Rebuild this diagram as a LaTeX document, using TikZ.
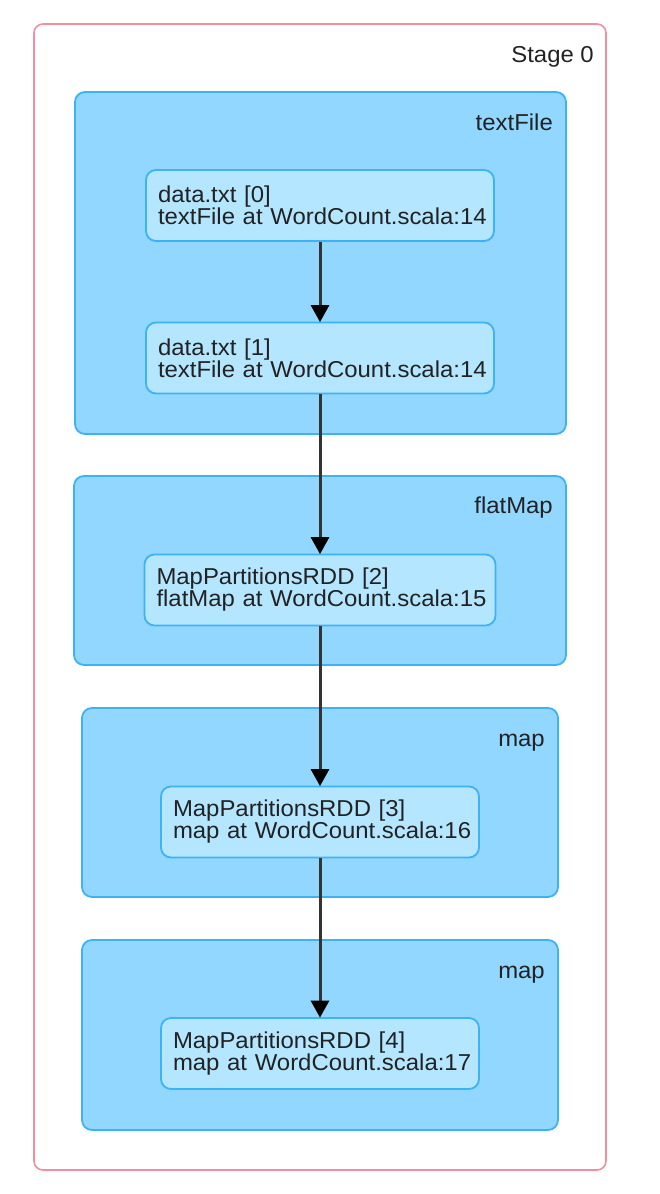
\documentclass[tikz,border=0pt]{standalone}
\usepackage{fontspec}
\setmainfont{Liberation Sans}[FakeStretch=1.04]
\usetikzlibrary{arrows.meta}
\definecolor{stageborder}{HTML}{F38DA2}
\definecolor{clusterfill}{HTML}{91D7FF}
\definecolor{clusterborder}{HTML}{3DB2F5}
\definecolor{nodefill}{HTML}{B4E6FF}
\definecolor{txt}{HTML}{222222}
\definecolor{edge}{HTML}{333333}
\hbadness=10000 \hfuzz=100pt
\tikzset{
  stagebox/.style={draw=stageborder, line width=1.6pt, fill=white, rounded corners=9pt, minimum width=572pt, minimum height=1146pt, inner sep=0pt},
  clusterbox/.style={draw=clusterborder, line width=1.8pt, fill=clusterfill, rounded corners=10pt, inner sep=0pt},
  rddbox/.style={draw=clusterborder, line width=1.8pt, fill=nodefill, rounded corners=10pt, inner xsep=12pt, inner ysep=0pt, align=left, text=txt, font=\fontsize{23}{22}\selectfont, minimum height=71pt},
  lbl/.style={anchor=base east, text=txt, inner sep=0pt, font=\fontsize{23}{24}\selectfont},
  arr/.style={draw=edge, line width=3pt, -{Triangle[length=17pt,width=18pt,fill=black,color=black]}, shorten >=-0.5pt}
}
\begin{document}
\begin{tikzpicture}[x=1pt,y=-1pt]
\path[use as bounding box] (0,0) rectangle (660,1194);
\node[stagebox] (stage) at (320,597) {};
\node[lbl] (stagelbl) at (594,62) {Stage 0};
% clusters
\node[clusterbox, minimum width=491pt, minimum height=342pt] (c0) at (320.5,263) {};
\node[lbl] (c0lbl) at (553,130) {textFile};
\node[clusterbox, minimum width=492pt, minimum height=189pt] (c1) at (320,570.5) {};
\node[lbl] (c1lbl) at (553,513) {flatMap};
\node[clusterbox, minimum width=476pt, minimum height=189pt] (c2) at (320,802.5) {};
\node[lbl] (c2lbl) at (545,746) {map};
\node[clusterbox, minimum width=476pt, minimum height=190pt] (c3) at (320,1035) {};
\node[lbl] (c3lbl) at (545,978) {map};
% rdd nodes
\node[rddbox, text width=324pt] (n0) at (320,205.5) {\mbox{data.txt [0]}\\\mbox{textFile at WordCount.scala:14}};
\node[rddbox, text width=324pt] (n1) at (320,358) {\mbox{data.txt [1]}\\\mbox{textFile at WordCount.scala:14}};
\node[rddbox, text width=327pt] (n2) at (320,590) {\mbox{MapPartitionsRDD [2]}\\\mbox{flatMap at WordCount.scala:15}};
\node[rddbox, text width=294pt] (n3) at (320,822) {\mbox{MapPartitionsRDD [3]}\\\mbox{map at WordCount.scala:16}};
\node[rddbox, text width=294pt] (n4) at (320,1053.5) {\mbox{MapPartitionsRDD [4]}\\\mbox{map at WordCount.scala:17}};
% edges
\draw[arr] (n0.south) -- (n1.north);
\draw[arr] (n1.south) -- (n2.north);
\draw[arr] (n2.south) -- (n3.north);
\draw[arr] (n3.south) -- (n4.north);
\end{tikzpicture}
\end{document}
